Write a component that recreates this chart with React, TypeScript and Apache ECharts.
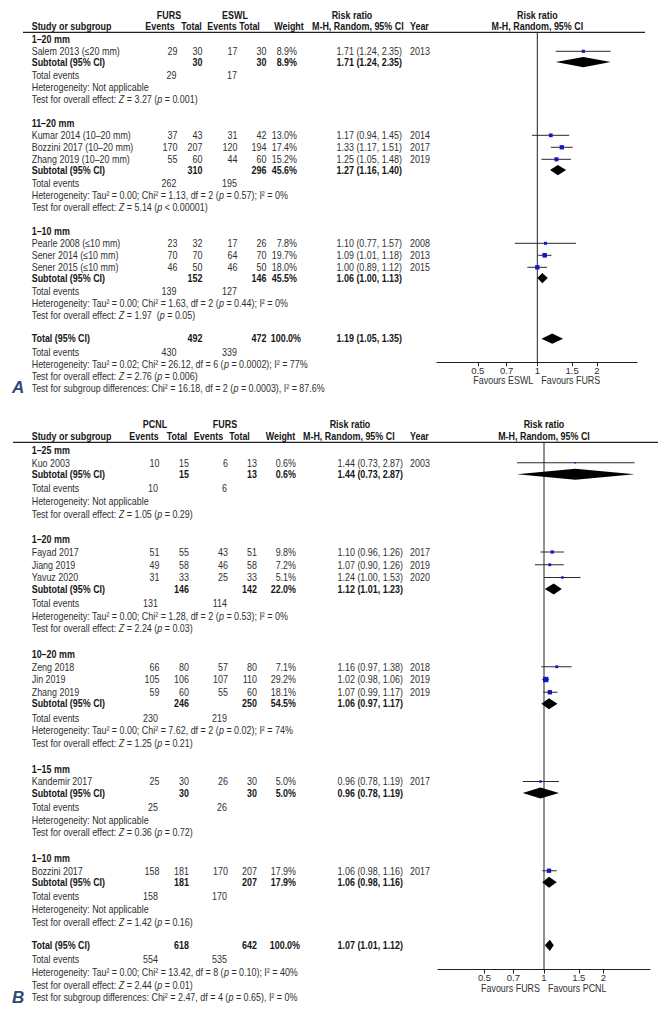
import React, { useEffect, useRef } from "react";
import * as echarts from "echarts";

// ================= Panel A: FURS vs ESWL =================
const armsA = ["FURS", "ESWL"];
const favoursA = ["Favours ESWL", "Favours FURS"];
const groupLabelsA = ["1–20 mm", "11–20 mm", "1–10 mm"];
const studyNamesA = [
  "Salem 2013 (≤20 mm)",
  "Kumar 2014 (10–20 mm)",
  "Bozzini 2017 (10–20 mm)",
  "Zhang 2019 (10–20 mm)",
  "Pearle 2008 (≤10 mm)",
  "Sener 2014 (≤10 mm)",
  "Sener 2015 (≤10 mm)",
];
const studyGroupA = [0, 1, 1, 1, 2, 2, 2];
const events1A = [29, 37, 170, 55, 23, 70, 46];
const totals1A = [30, 43, 207, 60, 32, 70, 50];
const events2A = [17, 31, 120, 44, 17, 64, 46];
const totals2A = [30, 42, 194, 60, 26, 70, 50];
const weightsA = [8.9, 13.0, 17.4, 15.2, 7.8, 19.7, 18.0];
const rrA = [1.71, 1.17, 1.33, 1.25, 1.1, 1.09, 1.0];
const lowA = [1.24, 0.94, 1.17, 1.05, 0.77, 1.01, 0.89];
const highA = [2.35, 1.45, 1.51, 1.48, 1.57, 1.18, 1.12];
const yearsA = [2013, 2014, 2017, 2019, 2008, 2013, 2015];
const subTotal1A = [30, 310, 152];
const subTotal2A = [30, 296, 146];
const subWeightA = [8.9, 45.6, 45.5];
const subRrA = [1.71, 1.27, 1.06];
const subLowA = [1.24, 1.16, 1.0];
const subHighA = [2.35, 1.4, 1.13];
const subEvents1A = [29, 262, 139];
const subEvents2A = [17, 195, 127];
const hetA = [
  "Heterogeneity: Not applicable",
  "Heterogeneity: Tau² = 0.00; Chi² = 1.13, df = 2 (p = 0.57); I² = 0%",
  "Heterogeneity: Tau² = 0.00; Chi² = 1.63, df = 2 (p = 0.44); I² = 0%",
];
const testA = ["Z = 3.27 (p = 0.001)", "Z = 5.14 (p < 0.00001)", "Z = 1.97  (p = 0.05)"];
const overallTotalsA = [492, 472];
const overallEventsA = [430, 339];
const overallRrA = [1.19, 1.05, 1.35];
const overallHetA = "Heterogeneity: Tau² = 0.02; Chi² = 26.12, df = 6 (p = 0.0002); I² = 77%";
const overallTestA = "Z = 2.76 (p = 0.006)";
const subgroupTestA = "Chi² = 16.18, df = 2 (p = 0.0003), I² = 87.6%";

// ================= Panel B: PCNL vs FURS =================
const armsB = ["PCNL", "FURS"];
const favoursB = ["Favours FURS", "Favours PCNL"];
const groupLabelsB = ["1–25 mm", "1–20 mm", "10–20 mm", "1–15 mm", "1–10 mm"];
const studyNamesB = [
  "Kuo 2003",
  "Fayad 2017",
  "Jiang 2019",
  "Yavuz 2020",
  "Zeng 2018",
  "Jin 2019",
  "Zhang 2019",
  "Kandemir 2017",
  "Bozzini 2017",
];
const studyGroupB = [0, 1, 1, 1, 2, 2, 2, 3, 4];
const events1B = [10, 51, 49, 31, 66, 105, 59, 25, 158];
const totals1B = [15, 55, 58, 33, 80, 106, 60, 30, 181];
const events2B = [6, 43, 46, 25, 57, 107, 55, 26, 170];
const totals2B = [13, 51, 58, 33, 80, 110, 60, 30, 207];
const weightsB = [0.6, 9.8, 7.2, 5.1, 7.1, 29.2, 18.1, 5.0, 17.9];
const rrB = [1.44, 1.1, 1.07, 1.24, 1.16, 1.02, 1.07, 0.96, 1.06];
const lowB = [0.73, 0.96, 0.9, 1.0, 0.97, 0.98, 0.99, 0.78, 0.98];
const highB = [2.87, 1.26, 1.26, 1.53, 1.38, 1.06, 1.17, 1.19, 1.16];
const yearsB = [2003, 2017, 2019, 2020, 2018, 2019, 2019, 2017, 2017];
const subTotal1B = [15, 146, 246, 30, 181];
const subTotal2B = [13, 142, 250, 30, 207];
const subWeightB = [0.6, 22.0, 54.5, 5.0, 17.9];
const subRrB = [1.44, 1.12, 1.06, 0.96, 1.06];
const subLowB = [0.73, 1.01, 0.97, 0.78, 0.98];
const subHighB = [2.87, 1.23, 1.17, 1.19, 1.16];
const subEvents1B = [10, 131, 230, 25, 158];
const subEvents2B = [6, 114, 219, 26, 170];
const hetB = [
  "Heterogeneity: Not applicable",
  "Heterogeneity: Tau² = 0.00; Chi² = 1.28, df = 2 (p = 0.53); I² = 0%",
  "Heterogeneity: Tau² = 0.00; Chi² = 7.62, df = 2 (p = 0.02); I² = 74%",
  "Heterogeneity: Not applicable",
  "Heterogeneity: Not applicable",
];
const testB = [
  "Z = 1.05 (p = 0.29)",
  "Z = 2.24 (p = 0.03)",
  "Z = 1.25 (p = 0.21)",
  "Z = 0.36 (p = 0.72)",
  "Z = 1.42 (p = 0.16)",
];
const overallTotalsB = [618, 642];
const overallEventsB = [554, 535];
const overallRrB = [1.07, 1.01, 1.12];
const overallHetB = "Heterogeneity: Tau² = 0.00; Chi² = 13.42, df = 8 (p = 0.10); I² = 40%";
const overallTestB = "Z = 2.44 (p = 0.01)";
const subgroupTestB = "Chi² = 2.47, df = 4 (p = 0.65), I² = 0%";

const axisTicks = [0.5, 0.7, 1, 1.5, 2];

// ================= styling / layout =================
const FONT = "'Liberation Sans', Arial, Helvetica, sans-serif";
const FS = 10.5;
const SX = 0.85;
const PX_PER_LN = 85.84;

type Layout = {
  head1Y: number; head2Y: number; lineY: number; lineX: [number, number];
  originY: number; unit: number; gap: number; totalGap: number; nameX: number;
  cols: number[]; teCols: number[]; armCenters: number[]; headCenters: number[];
  rrHeadCenter: number; mhX: number; rrRight: number; yearX: number;
  cx: number; plot: [number, number]; axisGap: number; letterX: number; diamondH: number;
};

const layoutA: Layout = {
  head1Y: 15, head2Y: 26.7, lineY: 32.3, lineX: [23, 645],
  originY: 39.3, unit: 12, gap: 2, totalGap: 1.95, nameX: 31.7,
  cols: [177.5, 202.5, 237.5, 266.5, 297], teCols: [176.5, 237],
  armCenters: [169, 235], headCenters: [160, 191.5, 222, 249.5, 289],
  rrHeadCenter: 352, mhX: 312, rrRight: 402, yearX: 410,
  cx: 537.3, plot: [437, 637], axisGap: 1.95, letterX: 12, diamondH: 5.1,
};
const layoutB: Layout = {
  head1Y: 424, head2Y: 436, lineY: 442.3, lineX: [13, 658],
  originY: 450, unit: 12.75, gap: 2, totalGap: 1.85, nameX: 31.7,
  cols: [159.5, 189, 228, 257, 296], teCols: [158, 227],
  armCenters: [155, 225], headCenters: [144, 177, 208.5, 239.5, 280.5],
  rrHeadCenter: 350, mhX: 303, rrRight: 403, yearX: 410,
  cx: 544, plot: [438, 650], axisGap: 1.9, letterX: 12, diamondH: 5.6,
};

type Panel = {
  arms: string[]; favours: string[]; groups: string[]; names: string[]; grp: number[];
  e1: number[]; n1: number[]; e2: number[]; n2: number[]; w: number[];
  rr: number[]; lo: number[]; hi: number[]; yr: number[];
  sN1: number[]; sN2: number[]; sW: number[]; sRr: number[]; sLo: number[]; sHi: number[];
  sE1: number[]; sE2: number[]; het: string[]; test: string[];
  tN: number[]; tE: number[]; tRr: number[]; tHet: string; tTest: string; tSub: string;
  letter: string;
};

const panelA: Panel = {
  arms: armsA, favours: favoursA, groups: groupLabelsA, names: studyNamesA, grp: studyGroupA,
  e1: events1A, n1: totals1A, e2: events2A, n2: totals2A, w: weightsA,
  rr: rrA, lo: lowA, hi: highA, yr: yearsA,
  sN1: subTotal1A, sN2: subTotal2A, sW: subWeightA, sRr: subRrA, sLo: subLowA, sHi: subHighA,
  sE1: subEvents1A, sE2: subEvents2A, het: hetA, test: testA,
  tN: overallTotalsA, tE: overallEventsA, tRr: overallRrA, tHet: overallHetA, tTest: overallTestA,
  tSub: subgroupTestA, letter: "A",
};
const panelB: Panel = {
  arms: armsB, favours: favoursB, groups: groupLabelsB, names: studyNamesB, grp: studyGroupB,
  e1: events1B, n1: totals1B, e2: events2B, n2: totals2B, w: weightsB,
  rr: rrB, lo: lowB, hi: highB, yr: yearsB,
  sN1: subTotal1B, sN2: subTotal2B, sW: subWeightB, sRr: subRrB, sLo: subLowB, sHi: subHighB,
  sE1: subEvents1B, sE2: subEvents2B, het: hetB, test: testB,
  tN: overallTotalsB, tE: overallEventsB, tRr: overallRrB, tHet: overallHetB, tTest: overallTestB,
  tSub: subgroupTestB, letter: "B",
};

type TxtOpts = { align?: string; bold?: boolean; italic?: boolean; size?: number; fill?: string; sx?: number };

function richify(s: string) {
  return s.replace(/\(p ([=<])/g, "({i|p} $1").replace(/Z =/g, "{i|Z} =");
}

function txt(x: number, y: number, text: string, o: TxtOpts = {}) {
  const size = o.size ?? FS;
  const weight = o.bold ? "bold" : "normal";
  const fill = o.fill ?? (o.bold ? "#161616" : "#303030");
  const align = o.align ?? "left";
  return {
    type: "text",
    x,
    y,
    scaleX: o.sx ?? SX,
    silent: true,
    style: {
      text,
      fill,
      fontSize: size,
      fontFamily: FONT,
      fontWeight: weight,
      fontStyle: o.italic ? "italic" : "normal",
      textAlign: align,
      align,
      textVerticalAlign: "middle",
      verticalAlign: "middle",
      rich: {
        i: { fontStyle: "italic", fontSize: size, fontFamily: FONT, fontWeight: weight, fill },
      },
    },
  };
}

const fmt2 = (v: number) => v.toFixed(2);
const rrText = (r: number, l: number, h: number) => `${fmt2(r)} (${fmt2(l)}, ${fmt2(h)})`;

function buildPanel(p: Panel, L: Layout, idx: number) {
  const Y = (pos: number) => L.originY + pos * L.unit;
  const els: any[] = [];
  const studyData: number[][] = [];
  const diamondData: number[][] = [];

  // headers
  els.push(txt(L.armCenters[0], L.head1Y, p.arms[0], { align: "center", bold: true }));
  els.push(txt(L.armCenters[1], L.head1Y, p.arms[1], { align: "center", bold: true }));
  els.push(txt(L.rrHeadCenter, L.head1Y, "Risk ratio", { align: "center", bold: true }));
  els.push(txt(L.cx, L.head1Y, "Risk ratio", { align: "center", bold: true }));
  els.push(txt(L.nameX, L.head2Y, "Study or subgroup", { bold: true }));
  ["Events", "Total", "Events", "Total", "Weight"].forEach((h, i) =>
    els.push(txt(L.headCenters[i], L.head2Y, h, { align: "center", bold: true }))
  );
  els.push(txt(L.mhX, L.head2Y, "M-H, Random, 95% CI", { bold: true }));
  els.push(txt(L.yearX, L.head2Y, "Year", { bold: true }));
  els.push(txt(L.cx, L.head2Y, "M-H, Random, 95% CI", { align: "center", bold: true }));
  els.push({
    type: "line",
    silent: true,
    shape: { x1: L.lineX[0], y1: L.lineY, x2: L.lineX[1], y2: L.lineY },
    style: { stroke: "#222", lineWidth: 1.2 },
  });

  let pos = 0;
  p.groups.forEach((g, gi) => {
    if (gi > 0) pos += L.gap;
    els.push(txt(L.nameX, Y(pos), g, { bold: true }));
    p.names.forEach((n, si) => {
      if (p.grp[si] !== gi) return;
      pos += 1;
      const y = Y(pos);
      els.push(txt(L.nameX, y, n));
      els.push(txt(L.cols[0], y, String(p.e1[si]), { align: "right" }));
      els.push(txt(L.cols[1], y, String(p.n1[si]), { align: "right" }));
      els.push(txt(L.cols[2], y, String(p.e2[si]), { align: "right" }));
      els.push(txt(L.cols[3], y, String(p.n2[si]), { align: "right" }));
      els.push(txt(L.cols[4], y, p.w[si].toFixed(1) + "%", { align: "right" }));
      els.push(txt(L.rrRight, y, rrText(p.rr[si], p.lo[si], p.hi[si]), { align: "right" }));
      els.push(txt(L.yearX, y, String(p.yr[si])));
      studyData.push([Math.log(p.rr[si]), pos, Math.log(p.lo[si]), Math.log(p.hi[si]), p.w[si]]);
    });
    pos += 0.9;
    let y = Y(pos);
    els.push(txt(L.nameX, y, "Subtotal (95% CI)", { bold: true }));
    els.push(txt(L.cols[1], y, String(p.sN1[gi]), { align: "right", bold: true }));
    els.push(txt(L.cols[3], y, String(p.sN2[gi]), { align: "right", bold: true }));
    els.push(txt(L.cols[4], y, p.sW[gi].toFixed(1) + "%", { align: "right", bold: true }));
    els.push(txt(L.rrRight, y, rrText(p.sRr[gi], p.sLo[gi], p.sHi[gi]), { align: "right", bold: true }));
    diamondData.push([Math.log(p.sRr[gi]), pos, Math.log(p.sLo[gi]), Math.log(p.sHi[gi])]);
    pos += 1.1;
    y = Y(pos);
    els.push(txt(L.nameX, y, "Total events"));
    els.push(txt(L.teCols[0], y, String(p.sE1[gi]), { align: "right" }));
    els.push(txt(L.teCols[1], y, String(p.sE2[gi]), { align: "right" }));
    pos += 1;
    els.push(txt(L.nameX, Y(pos), richify(p.het[gi])));
    pos += 1;
    els.push(txt(L.nameX, Y(pos), richify("Test for overall effect: " + p.test[gi])));
  });

  pos += L.totalGap;
  const totalPos = pos;
  let y = Y(pos);
  els.push(txt(L.nameX, y, "Total (95% CI)", { bold: true }));
  els.push(txt(L.cols[1], y, String(p.tN[0]), { align: "right", bold: true }));
  els.push(txt(L.cols[3], y, String(p.tN[1]), { align: "right", bold: true }));
  els.push(txt(L.cols[4] + 4, y, "100.0%", { align: "right", bold: true }));
  els.push(txt(L.rrRight, y, rrText(p.tRr[0], p.tRr[1], p.tRr[2]), { align: "right", bold: true }));
  diamondData.push([Math.log(p.tRr[0]), pos, Math.log(p.tRr[1]), Math.log(p.tRr[2])]);
  pos += 1.1;
  y = Y(pos);
  els.push(txt(L.nameX, y, "Total events"));
  els.push(txt(L.teCols[0], y, String(p.tE[0]), { align: "right" }));
  els.push(txt(L.teCols[1], y, String(p.tE[1]), { align: "right" }));
  pos += 1;
  els.push(txt(L.nameX, Y(pos), richify(p.tHet)));
  pos += 1;
  els.push(txt(L.nameX, Y(pos), richify("Test for overall effect: " + p.tTest)));
  pos += 1;
  els.push(txt(L.nameX, Y(pos), richify("Test for subgroup differences: " + p.tSub)));
  els.push(
    txt(L.letterX, Y(pos), p.letter, { bold: true, italic: true, size: 17, fill: "#2d4a78", sx: 1 })
  );

  const axisPos = totalPos + L.axisGap;
  const yMin = (L.lineY - L.originY) / L.unit;
  const axisPx = Y(axisPos);
  els.push(txt(L.cx - 4, axisPx + 18.6, p.favours[0], { align: "right" }));
  els.push(txt(L.cx + 4, axisPx + 18.6, p.favours[1]));

  const grid = {
    left: L.plot[0],
    width: L.plot[1] - L.plot[0],
    top: L.lineY,
    height: axisPx - L.lineY,
    containLabel: false,
    outerBoundsMode: "none",
  };
  const tickVals = axisTicks.map((t) => Math.log(t));
  const xAxis = {
    type: "value",
    gridIndex: idx,
    position: "bottom",
    min: -(L.cx - L.plot[0]) / PX_PER_LN,
    max: (L.plot[1] - L.cx) / PX_PER_LN,
    splitLine: { show: false },
    axisLine: { show: true, onZero: false, lineStyle: { color: "#222", width: 1 } },
    axisTick: { show: true, length: 4, customValues: tickVals, lineStyle: { color: "#222" } },
    axisLabel: {
      show: true,
      customValues: tickVals,
      margin: 3,
      fontSize: 9.5,
      fontFamily: FONT,
      color: "#303030",
      formatter: (v: number) => String(parseFloat(Math.exp(v).toFixed(2))),
    },
  };
  const yAxis = {
    type: "value",
    gridIndex: idx,
    inverse: true,
    min: yMin,
    max: axisPos,
    show: false,
    splitLine: { show: false },
  };
  const dh = L.diamondH;
  const series = [
    {
      type: "line",
      xAxisIndex: idx,
      yAxisIndex: idx,
      data: [
        [0, yMin],
        [0, axisPos],
      ],
      symbol: "none",
      silent: true,
      lineStyle: { color: "#222", width: 1 },
      z: 1,
    },
    {
      type: "custom",
      xAxisIndex: idx,
      yAxisIndex: idx,
      data: studyData,
      silent: true,
      z: 3,
      renderItem: (_params: any, api: any) => {
        const yy = api.value(1);
        const pLo = api.coord([api.value(2), yy]);
        const pHi = api.coord([api.value(3), yy]);
        const pC = api.coord([api.value(0), yy]);
        const s = Math.max(1.6, 0.95 * Math.sqrt(api.value(4)) + 0.3);
        return {
          type: "group",
          children: [
            {
              type: "line",
              shape: { x1: pLo[0], y1: pLo[1], x2: pHi[0], y2: pHi[1] },
              style: { stroke: "#2a2a2a", lineWidth: 1 },
            },
            {
              type: "rect",
              shape: { x: pC[0] - s / 2, y: pC[1] - s / 2, width: s, height: s },
              style: { fill: "#1414c8" },
            },
          ],
        };
      },
    },
    {
      type: "custom",
      xAxisIndex: idx,
      yAxisIndex: idx,
      data: diamondData,
      silent: true,
      z: 3,
      renderItem: (_params: any, api: any) => {
        const yy = api.value(1);
        const pLo = api.coord([api.value(2), yy]);
        const pHi = api.coord([api.value(3), yy]);
        const pC = api.coord([api.value(0), yy]);
        return {
          type: "polygon",
          shape: {
            points: [
              [pLo[0], pLo[1]],
              [pC[0], pC[1] - dh],
              [pHi[0], pHi[1]],
              [pC[0], pC[1] + dh],
            ],
          },
          style: { fill: "#000" },
        };
      },
    },
  ];
  return { els, grid, xAxis, yAxis, series };
}

function buildOption() {
  const a = buildPanel(panelA, layoutA, 0);
  const b = buildPanel(panelB, layoutB, 1);
  return {
    animation: false,
    backgroundColor: "#ffffff",
    grid: [a.grid, b.grid],
    xAxis: [a.xAxis, b.xAxis],
    yAxis: [a.yAxis, b.yAxis],
    series: [...a.series, ...b.series],
    graphic: { elements: [...a.els, ...b.els] },
  };
}

export default function App() {
  const ref = useRef<HTMLDivElement>(null);
  useEffect(() => {
    if (!ref.current) return;
    const chart = echarts.init(ref.current, null, { renderer: "svg" });
    chart.setOption(buildOption() as any);
    return () => chart.dispose();
  }, []);
  return (
    <div
      ref={ref}
      style={{ position: "absolute", left: 0, top: 0, width: 667, height: 1015, background: "#fff" }}
    />
  );
}
